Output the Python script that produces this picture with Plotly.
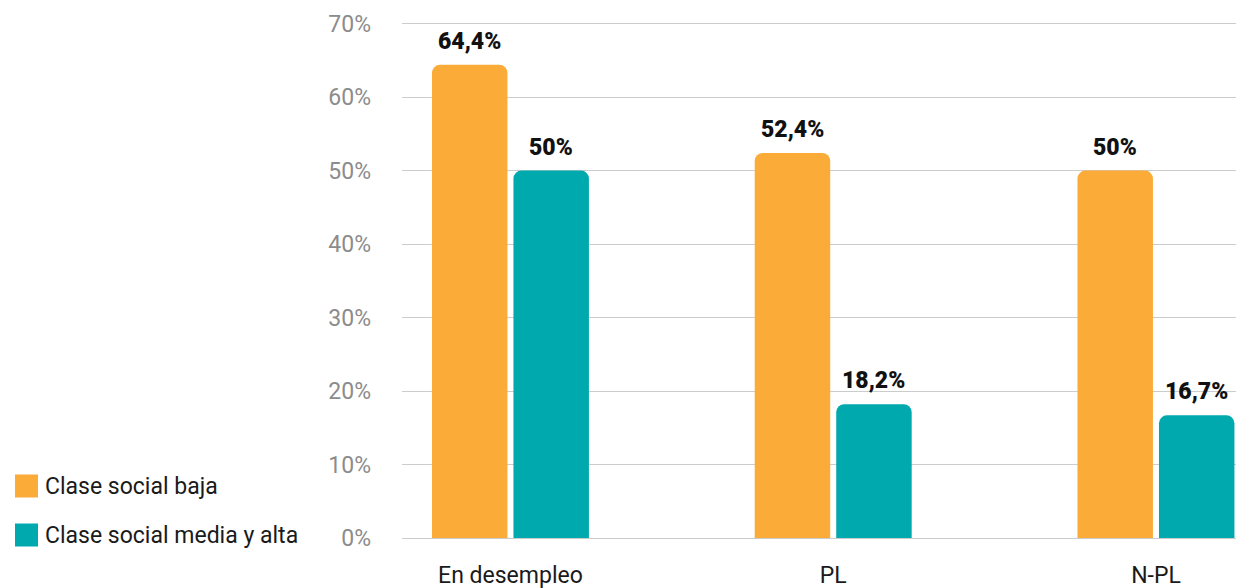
import plotly.graph_objects as go

# data
categories = ["En desempleo", "PL", "N-PL"]
series_names = ["Clase social baja", "Clase social media y alta"]
baja = [64.4, 52.4, 50]
media_alta = [50, 18.2, 16.7]
y_ticks = [0, 10, 20, 30, 40, 50, 60, 70]

colors = ["#FBAB38", "#00A9AE"]
W, H = 1236, 588
T, B = 20, 50


def pct_label(v):
    return f"{v:g}".replace(".", ",") + "%"


fig = go.Figure()
for j, (name, vals, col) in enumerate(zip(series_names, [baja, media_alta], colors)):
    fig.add_trace(go.Bar(
        x=categories,
        y=vals,
        name=name,
        marker=dict(color=col, line=dict(width=0)),
    ))
    # value labels a little higher above the bars than plotly's own outside text
    for cat, v in zip(categories, vals):
        fig.add_annotation(x=cat, y=v, text=pct_label(v), showarrow=False,
                           xanchor="center", yanchor="bottom",
                           xshift=(j - 0.5) * 81.5, yshift=8,
                           font=dict(family="Roboto", size=23, color="#111111",
                                     weight=900))

# legend drawn by hand so the swatches are as large as in the reference
ph = H - T - B
for i, (name, col) in enumerate(zip(series_names, colors)):
    yc = 486 + i * 49  # pixel centre of the entry
    yp = (H - B - yc) / ph
    fig.add_shape(type="rect", xref="paper", yref="paper",
                  x0=15 / W, x1=38 / W,
                  y0=yp - 11.5 / ph, y1=yp + 11.5 / ph,
                  fillcolor=col, line=dict(width=0))
    fig.add_annotation(xref="paper", yref="paper", x=43 / W, y=yp,
                       text=name, showarrow=False, xanchor="left", yanchor="middle",
                       font=dict(family="Roboto", size=23, color="#1a1a1a"))

fig.update_layout(
    width=W,
    height=H,
    margin=dict(l=0, r=0, t=T, b=B),
    paper_bgcolor="white",
    plot_bgcolor="white",
    showlegend=False,
    barmode="group",
    bargap=0.495,
    bargroupgap=0.074,
    barcornerradius=8,
    xaxis=dict(
        domain=[402 / W, 1],
        range=[-0.336, 2.248],
        showgrid=False,
        showline=False,
        ticks="",
        tickfont=dict(family="Roboto", size=23, color="#1a1a1a"),
        ticklabelstandoff=21,
    ),
    yaxis=dict(
        range=[0, 70.5],
        tickvals=y_ticks,
        ticktext=[f"{t}%" for t in y_ticks],
        showgrid=True,
        gridcolor="#cccccc",
        gridwidth=1,
        zeroline=True,
        zerolinecolor="#cccccc",
        zerolinewidth=1,
        showline=False,
        ticks="",
        tickfont=dict(family="Roboto", size=23, color="#8c8c8c"),
        ticklabelstandoff=30,
    ),
)

# the page body has a default 8px margin; drop it so the figure sits at the corner
fig.write_html("out.html", config={"displayModeBar": False},
               post_script="document.body.style.margin='0';")
